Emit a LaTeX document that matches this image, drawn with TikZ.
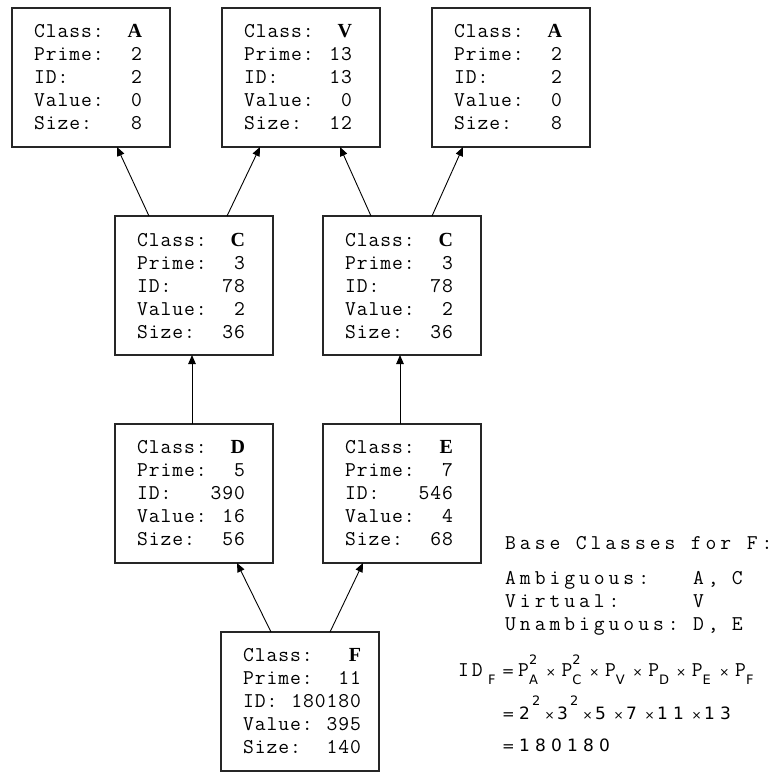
\documentclass[tikz,border=0pt]{standalone}
\usepackage{fontspec}
\setmainfont{Liberation Serif}
\newfontfamily\boxmono{Latin Modern Mono}[LetterSpace=4.6]
\newfontfamily\rmono{Latin Modern Mono}[LetterSpace=18.9]
\newfontfamily\idmono{Latin Modern Mono}[LetterSpace=14.1]
\newfontfamily\eqmonof{Latin Modern Mono}
\newfontfamily\dvs{DejaVu Sans}
\usetikzlibrary{arrows.meta}
\newcommand\boxfont{\boxmono\fontsize{21}{23}\selectfont}
\newcommand\rfont{\rmono\fontsize{21}{23}\selectfont}
\newcommand\clsl[1]{{\rmfamily\bfseries\fontsize{20}{20}\selectfont #1}}
\newcommand\rowln[3]{\makebox[114pt][l]{\makebox[#1]{#2\hfill #3}}}
\newcommand\info[6]{\rowln{#1}{Class:}{\clsl{#2}}\\\rowln{#1}{Prime:}{#3}\\\rowln{#1}{ID:}{#4}\\\rowln{#1}{Value:}{#5}\\\rowln{#1}{Size:}{#6}}
\newcommand\gap{\hspace{13pt}}
\newcommand\hgap{\hspace{15.5pt}}
% equation helpers
\newcommand\subsf{\dvs\fontsize{13}{13}\selectfont}
\newcommand\Pgrp[2]{\makebox[22pt][l]{{\eqmonof\fontsize{21}{21}\selectfont P}\rlap{\raisebox{12pt}{\subsf #2}}\raisebox{-8pt}{\subsf #1}}}
\newcommand\Tx[1]{\makebox[#1]{\dvs\fontsize{12}{12}\selectfont ×}}
\newcommand\Eq{{\dvs\fontsize{15}{15}\selectfont =}}
\newcommand\dd[1]{\makebox[16pt][l]{\dvs\fontsize{17}{17}\selectfont #1}}
\newcommand\ddn[1]{\makebox[13pt][l]{\dvs\fontsize{17}{17}\selectfont #1}}
\newcommand\Sup[1]{\makebox[10pt][l]{\raisebox{14pt}{\subsf #1}}}
\begin{document}
\begin{tikzpicture}[x=1pt,y=-1pt,
  cbox/.style={draw=black!85, line width=1.2pt, minimum width=158pt, minimum height=139pt,
    inner sep=0pt, outer sep=0pt, anchor=north west, align=left, font=\boxfont},
  inh/.style={-{Triangle[length=9pt,width=7.5pt]}, line width=0.9pt},
  txt/.style={anchor=base west, inner sep=0pt, font=\rfont}]
\useasboundingbox (0,0) rectangle (776,772);
\fill[white] (0,0) rectangle (776,772);
\node[cbox] (a1) at (12,8) {\info{108pt}{A}{2}{2}{0}{8}};
\node[cbox] (v)  at (222,8) {\info{108pt}{V}{13}{13}{0}{12}};
\node[cbox] (a2) at (432,8) {\info{108pt}{A}{2}{2}{0}{8}};
\node[cbox] (c1) at (115,216) {\info{108pt}{C}{3}{78}{2}{36}};
\node[cbox] (c2) at (323,216) {\info{108pt}{C}{3}{78}{2}{36}};
\node[cbox] (d)  at (115,424) {\info{108pt}{D}{5}{390}{16}{56}};
\node[cbox] (e)  at (323,424) {\info{108pt}{E}{7}{546}{4}{68}};
\node[cbox] (f)  at (221,632) {\info{118pt}{F}{11}{180180}{395}{140}};
\draw[inh] ([xshift=34pt]c1.north west) -- ([xshift=105pt]a1.south west);
\draw[inh] ([xshift=112pt]c1.north west) -- ([xshift=38pt]v.south west);
\draw[inh] ([xshift=48pt]c2.north west) -- ([xshift=118pt]v.south west);
\draw[inh] ([xshift=109pt]c2.north west) -- ([xshift=31pt]a2.south west);
\draw[inh] ([xshift=77pt]d.north west) -- ([xshift=77pt]c1.south west);
\draw[inh] ([xshift=77pt]e.north west) -- ([xshift=77pt]c2.south west);
\draw[inh] ([xshift=50pt]f.north west) -- ([xshift=122pt]d.south west);
\draw[inh] ([xshift=109pt]f.north west) -- ([xshift=40pt]e.south west);
\node[txt] (hdr) at (505,549) {Base\hgap Classes\hgap for\hgap F:};
\node[txt] (amb) at (505,584) {\makebox[188pt][l]{Ambiguous:}A,\gap C};
\node[txt] (vir) at (505,607) {\makebox[188pt][l]{Virtual:}V};
\node[txt] (una) at (505,630) {\makebox[188pt][l]{Unambiguous:}D,\gap E};
\node[anchor=base west, inner sep=0pt] (eq1) at (458,676)
  {\makebox[30pt][l]{\idmono\fontsize{21}{21}\selectfont ID}\makebox[10pt][l]{\raisebox{-8pt}{\subsf F}}\makebox[20pt]{\Eq}%
   \Pgrp{A}{2}\Tx{21.4pt}\Pgrp{C}{2}\Tx{21.4pt}\Pgrp{V}{}\Tx{21.4pt}\Pgrp{D}{}\Tx{21.4pt}\Pgrp{E}{}\Tx{21.4pt}\Pgrp{F}{}};
\node[anchor=base west, inner sep=0pt] (eq2) at (502,719)
  {\makebox[17pt][l]{\Eq}\ddn{2}\Sup{2}\Tx{15pt}\ddn{3}\Sup{2}\Tx{15pt}\dd{5}\Tx{15pt}\dd{7}\Tx{15pt}\dd{1}\dd{1}\Tx{15pt}\dd{1}\dd{3}};
\node[anchor=base west, inner sep=0pt] (eq3) at (502,751)
  {\makebox[17pt][l]{\Eq}\dd{1}\dd{8}\dd{0}\dd{1}\dd{8}\dd{0}};
\end{tikzpicture}
\end{document}
